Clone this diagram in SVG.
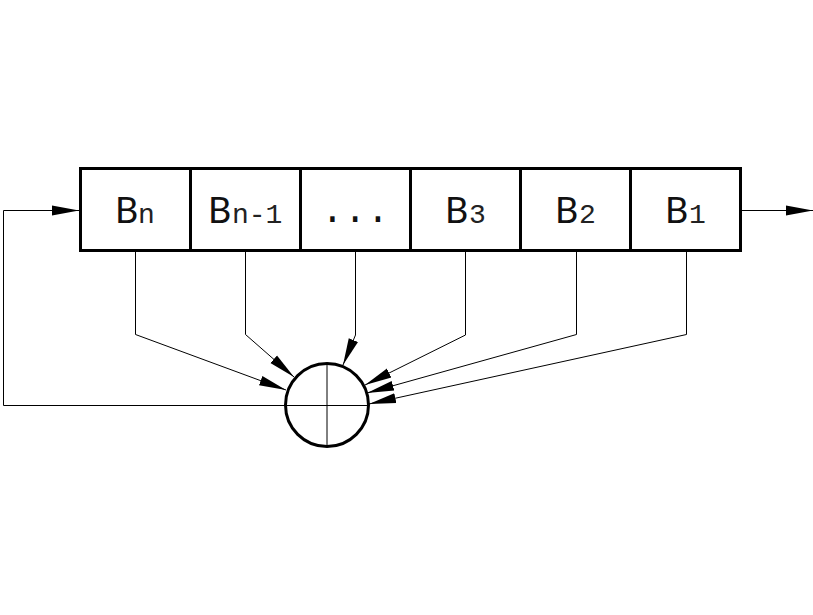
<svg xmlns="http://www.w3.org/2000/svg" width="813" height="615" viewBox="0 0 813 615">
<style>
.cell{fill:#fff;stroke:#000;stroke-width:3}
.wire{fill:none;stroke:#000;stroke-width:1}
.big{font-family:Lato,"Liberation Sans",Arial,sans-serif;font-size:36px;fill:#111}
.sub{font-family:"Liberation Mono","Courier New",monospace;font-size:28px;fill:#222}
.dots{font-family:"Liberation Mono","Courier New",monospace;font-size:38px;fill:#111}
</style>
<defs>
<marker id="a" markerUnits="userSpaceOnUse" markerWidth="28" markerHeight="12" refX="27" refY="6" orient="auto"><path d="M0 1 L27 6 L0 11Z" fill="#000"/></marker>
</defs>
<rect width="813" height="615" fill="#fff"/>
<g id="connectors">
<path class="wire" d="M285 405.500H3.500V210.500H79" marker-end="url(#a)"/>
<path class="wire" d="M741 210.500H813" marker-end="url(#a)"/>
<path class="wire" d="M135.500 251V334.500L286 390" marker-end="url(#a)"/>
<path class="wire" d="M245.500 251V334.500L294 377" marker-end="url(#a)"/>
<path class="wire" d="M355.500 251V335L343 365" marker-end="url(#a)"/>
<path class="wire" d="M465.500 251V335L365 385" marker-end="url(#a)"/>
<path class="wire" d="M576.500 251V334.500L367 393" marker-end="url(#a)"/>
<path class="wire" d="M686.500 251V334.500L369 404" marker-end="url(#a)"/>
</g>
<g id="node-bn"><rect class="cell" x="80.500" y="168.500" width="110" height="82"/><text class="big" x="115" y="223">B</text><text class="sub" x="138" y="223">n</text></g>
<g id="node-bn1"><rect class="cell" x="190.500" y="168.500" width="110" height="82"/><text class="big" x="208" y="223">B</text><text class="sub" x="232" y="223">n-1</text></g>
<g id="node-dots"><rect class="cell" x="300.500" y="168.500" width="110" height="82"/><text class="dots" x="321" y="222">...</text></g>
<g id="node-b3"><rect class="cell" x="410.500" y="168.500" width="110" height="82"/><text class="big" x="445" y="223">B</text><text class="sub" x="469" y="223">3</text></g>
<g id="node-b2"><rect class="cell" x="520.500" y="168.500" width="110" height="82"/><text class="big" x="555" y="223">B</text><text class="sub" x="579" y="223">2</text></g>
<g id="node-b1"><rect class="cell" x="630.500" y="168.500" width="110" height="82"/><text class="big" x="665" y="223">B</text><text class="sub" x="689" y="223">1</text></g>
<g id="node-xor">
<circle cx="327" cy="405" r="41.500" fill="none" stroke="#000" stroke-width="3"/>
<path class="wire" d="M327 363.500V447M285 405.500H368"/>
</g>
</svg>
